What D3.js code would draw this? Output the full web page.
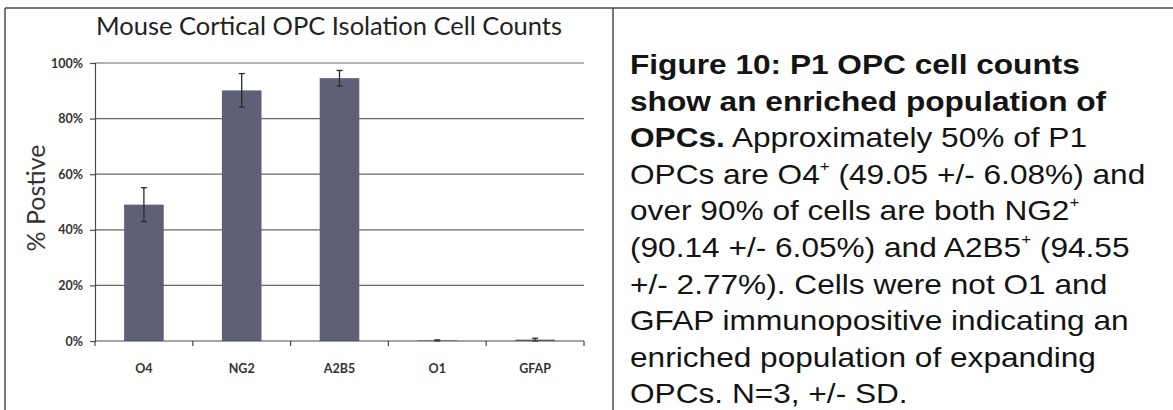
<!DOCTYPE html>
<html>
<head>
<meta charset="utf-8">
<script src="https://cdn.jsdelivr.net/npm/d3@7"></script>
<style>
  body { margin: 0; background: #ffffff; }
  svg { display: block; }
</style>
</head>
<body>
<div id="chart"></div>
<script>
// chart data
var categories = ["O4", "NG2", "A2B5", "O1", "GFAP"];
var percentPositive = [49.05, 90.14, 94.55, 0.2, 0.5];
var errorSD = [6.08, 6.05, 2.77, 0.2, 0.5];
var yTicks = [0, 20, 40, 60, 80, 100];

// caption lines, each line a list of [text, style] pieces
var captionLines = [
  [["Figure 10: P1 OPC cell counts", "b"]],
  [["show an enriched population of", "b"]],
  [["OPCs.", "b"], [" Approximately 50% of P1", "r"]],
  [["OPCs are O4", "r"], ["+", "sup"], [" (49.05 +/- 6.08%) and", "r"]],
  [["over 90% of cells are both NG2", "r"], ["+", "sup"]],
  [["(90.14 +/- 6.05%) and A2B5", "r"], ["+", "sup"], [" (94.55", "r"]],
  [["+/- 2.77%). Cells were not O1 and", "r"]],
  [["GFAP immunopositive indicating an", "r"]],
  [["enriched population of expanding", "r"]],
  [["OPCs. N=3, +/- SD.", "r"]]
];

var W = 1173, H = 410;
var margin = {top: 63, left: 95, right: 589, bottom: 69},
    width = W - margin.left - margin.right,
    height = H - margin.top - margin.bottom;

var svg = d3.select("#chart").append("svg")
    .attr("width", W)
    .attr("height", H);

// frame of the figure box
var frame = svg.append("g").attr("stroke", "#4a4a4a").attr("stroke-width", 1.5).attr("fill", "none");
frame.append("line").attr("x1", 5).attr("x2", W).attr("y1", 8).attr("y2", 8);
frame.append("line").attr("x1", 5).attr("x2", 5).attr("y1", 8).attr("y2", H);
frame.append("line").attr("x1", 613).attr("x2", 613).attr("y1", 8).attr("y2", H);

var g = svg.append("g")
    .attr("transform", "translate(" + margin.left + "," + margin.top + ")");

var x = d3.scaleBand().domain(categories).range([0, width]).paddingInner(0.595).paddingOuter(0.2975);
var xCat = d3.scaleBand().domain(categories).range([0, width]).padding(0);
var y = d3.scaleLinear().domain([0, 100]).range([height, 0]);

// gridlines
g.append("g")
    .selectAll("line")
    .data(yTicks.filter(function(d) { return d > 0; }))
    .enter().append("line")
      .attr("x1", 0)
      .attr("x2", width)
      .attr("y1", function(d) { return y(d); })
      .attr("y2", function(d) { return y(d); })
      .attr("stroke", "#666")
      .attr("stroke-width", 1.2);

// bars
g.selectAll(".bar")
    .data(categories)
    .enter().append("rect")
      .attr("class", "bar")
      .attr("x", function(d) { return x(d); })
      .attr("y", function(d, i) { return y(percentPositive[i]); })
      .attr("width", x.bandwidth())
      .attr("height", function(d, i) { return height - y(percentPositive[i]); })
      .attr("fill", "#5f5f77");

// error bars (+/- SD)
var err = g.append("g").attr("stroke", "#2a2a2a").attr("stroke-width", 1.3);
categories.forEach(function(c, i) {
  var cx = x(c) + x.bandwidth() / 2;
  var top = y(percentPositive[i] + errorSD[i]);
  var bot = y(Math.max(0, percentPositive[i] - errorSD[i]));
  err.append("line").attr("x1", cx).attr("x2", cx).attr("y1", top).attr("y2", bot);
  err.append("line").attr("x1", cx - 3).attr("x2", cx + 3).attr("y1", top).attr("y2", top);
  err.append("line").attr("x1", cx - 3).attr("x2", cx + 3).attr("y1", bot).attr("y2", bot);
});

// Y axis
var yAxis = g.append("g")
    .call(d3.axisLeft(y).tickValues(yTicks).tickSize(5).tickPadding(7).tickFormat(function(d) { return d + "%"; }));
yAxis.selectAll("path, line").attr("stroke", "#4a4a4a").attr("stroke-width", 1.2);
yAxis.selectAll("text")
    .style("font-family", "Lato, 'Open Sans', sans-serif")
    .style("font-weight", "bold")
    .style("font-size", "12.5px")
    .attr("fill", "#333");

// X axis: ticks sit between the categories
var xAxis = g.append("g").attr("transform", "translate(0," + height + ")");
xAxis.append("line").attr("x1", 0).attr("x2", width).attr("stroke", "#4a4a4a").attr("stroke-width", 1.2);
xAxis.selectAll(".tick")
    .data(categories.concat(["end"]))
    .enter().append("line")
      .attr("x1", function(d, i) { return i * xCat.step(); })
      .attr("x2", function(d, i) { return i * xCat.step(); })
      .attr("y1", 0).attr("y2", 5)
      .attr("stroke", "#4a4a4a").attr("stroke-width", 1.2);
xAxis.selectAll(".lbl")
    .data(categories)
    .enter().append("text")
      .attr("x", function(d) { return xCat(d) + xCat.bandwidth() / 2; })
      .attr("y", 32)
      .attr("text-anchor", "middle")
      .style("font-family", "Lato, 'Open Sans', sans-serif")
      .style("font-weight", "bold")
      .style("font-size", "12.5px")
      .attr("fill", "#333")
      .text(function(d) { return d; });

// Y label
svg.append("text")
    .attr("transform", "translate(45," + (margin.top + height / 2 - 4) + ") rotate(-90)")
    .attr("text-anchor", "middle")
    .style("font-family", "Lato, 'Open Sans', sans-serif")
    .style("font-size", "25px")
    .attr("fill", "#333")
    .text("% Postive");

// Title
svg.append("text")
    .attr("x", 329)
    .attr("y", 35)
    .attr("text-anchor", "middle")
    .style("font-family", "Lato, 'Open Sans', sans-serif")
    .style("font-size", "25.5px")
    .attr("fill", "#222")
    .text("Mouse Cortical OPC Isolation Cell Counts");

// Caption, a bit wider than tall like the scan
var cap = svg.append("g").attr("transform", "translate(630,0) scale(1.13,1)");
captionLines.forEach(function(line, li) {
  var t = cap.append("text")
      .attr("x", 0)
      .attr("y", 74 + li * 36.6)
      .style("font-family", "'Liberation Sans', Arial, sans-serif")
      .style("font-size", "28px")
      .attr("fill", "#141414");
  line.forEach(function(p) {
    var s = t.append("tspan").text(p[0]);
    if (p[1] === "b") s.style("font-weight", "bold");
    if (p[1] === "sup") s.style("font-size", "15px").attr("baseline-shift", "90%");
  });
});
</script>
</body>
</html>
